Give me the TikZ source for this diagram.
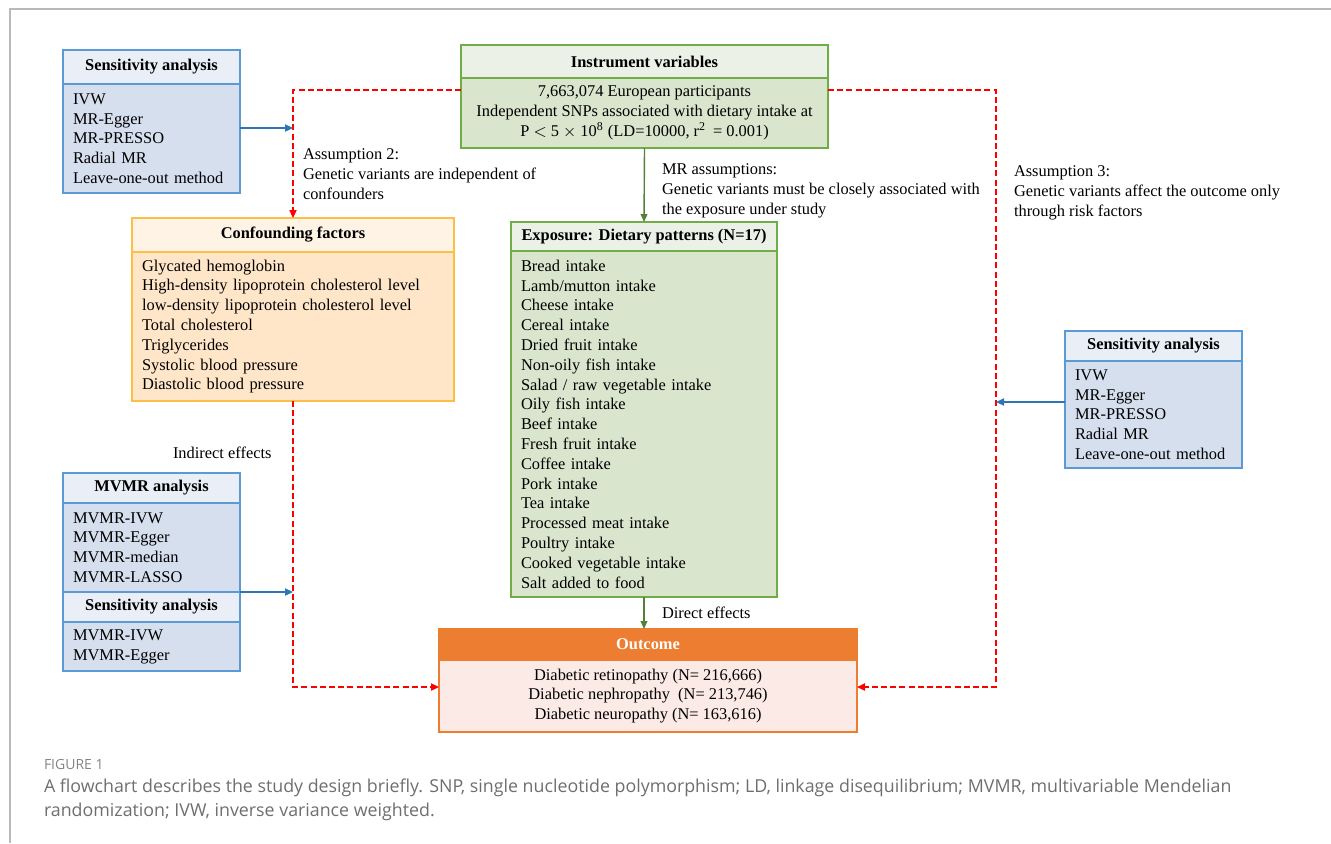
\documentclass[tikz,border=0pt]{standalone}
\usepackage{fontspec}
\setmainfont{Liberation Serif}
\newfontfamily\capfont{Open Sans}
\usetikzlibrary{positioning,arrows.meta}
\definecolor{blueline}{HTML}{5B9BD5}
\definecolor{bluehead}{HTML}{E9EEF7}
\definecolor{bluebody}{HTML}{D5DFEE}
\definecolor{greenline}{HTML}{70AD47}
\definecolor{greenhead}{HTML}{EBF1E6}
\definecolor{greenbody}{HTML}{D9E5CD}
\definecolor{goldline}{HTML}{FBBF45}
\definecolor{goldhead}{HTML}{FFF3E6}
\definecolor{goldbody}{HTML}{FFE6C9}
\definecolor{orangeline}{HTML}{ED7D31}
\definecolor{orangebody}{HTML}{FBEAE5}
\definecolor{arrowblue}{HTML}{2E75B6}
\definecolor{arrowgreen}{HTML}{538135}
\definecolor{capgray}{HTML}{6E6E6E}
\begin{document}
\begin{tikzpicture}[
  x=0.5pt, y=-0.5pt,
  every node/.style={font=\fontsize{8.2}{9.9}\selectfont, inner sep=0pt, outer sep=0pt},
  hdr/.style={draw, line width=0.7pt, anchor=north west, align=center,
    font=\fontsize{8.2}{9.9}\selectfont\bfseries},
  lst/.style={draw, line width=0.7pt, align=left, inner xsep=5pt},
  ctr/.style={draw, line width=0.7pt, align=center},
  note/.style={anchor=north west, align=left},
  reddash/.style={draw=red, line width=0.75pt, dashed, dash pattern=on 3pt off 1.6pt,
    -{Triangle[length=4pt,width=3.6pt]}},
  bluearrow/.style={draw=arrowblue, line width=0.75pt, -{Triangle[length=4pt,width=3.6pt]}},
  greenarrow/.style={draw=arrowgreen, line width=0.7pt, -{Triangle[length=4pt,width=3.4pt]}}
]
\useasboundingbox (0,0) rectangle (1331,843);
\draw[gray!55, line width=0.8pt] (10,843) -- (10,9) -- (1331,9);

% instrument variables
\node[hdr, draw=greenline, fill=greenhead, minimum width=183.5pt, minimum height=16.5pt] (iv) at (461,45) {Instrument variables};
\node[ctr, draw=greenline, fill=greenbody, minimum width=183.5pt, minimum height=35pt, below=0pt of iv] (ivtext)
  {7,663,074 European participants\\ Independent SNPs associated with dietary intake at\\ P $<$ 5 $\times$ 10\textsuperscript{\fontsize{6}{6}\selectfont 8} (LD=10000, r\textsuperscript{\fontsize{6}{6}\selectfont 2} \,= 0.001)};

% sensitivity analysis (left)
\node[hdr, draw=blueline, fill=bluehead, minimum width=88.5pt, minimum height=17pt] (sensl) at (63,50) {Sensitivity analysis};
\node[lst, draw=blueline, fill=bluebody, text width=78.5pt, minimum height=54.5pt, below=0pt of sensl] (senslist)
  {IVW\\ MR-Egger\\ MR-PRESSO\\ Radial MR\\ Leave-one-out method};

% confounding factors
\node[hdr, draw=goldline, fill=goldhead, minimum width=161pt, minimum height=17pt] (conf) at (132,218) {Confounding factors};
\node[lst, draw=goldline, fill=goldbody, text width=151pt, minimum height=74.5pt, below=0pt of conf] (conflist)
  {Glycated hemoglobin\\ High-density lipoprotein cholesterol level\\ low-density lipoprotein cholesterol level\\
   Total cholesterol\\ Triglycerides\\ Systolic blood pressure\\ Diastolic blood pressure};

% exposure
\node[hdr, draw=greenline, fill=greenhead, minimum width=133pt, minimum height=14.5pt] (expo) at (511,222) {Exposure: Dietary patterns (N=17)};
\node[lst, draw=greenline, fill=greenbody, text width=123pt, minimum height=173pt, below=0pt of expo] (expolist)
  {Bread intake\\ Lamb/mutton intake\\ Cheese intake\\ Cereal intake\\ Dried fruit intake\\ Non-oily fish intake\\
   Salad / raw vegetable intake\\ Oily fish intake\\ Beef intake\\ Fresh fruit intake\\ Coffee intake\\ Pork intake\\
   Tea intake\\ Processed meat intake\\ Poultry intake\\ Cooked vegetable intake\\ Salt added to food};

% outcome
\node[hdr, draw=orangeline, fill=orangeline, text=white, minimum width=209pt, minimum height=15.5pt] (outc) at (439,629) {Outcome};
\node[ctr, draw=orangeline, fill=orangebody, minimum width=209pt, minimum height=36pt, below=0pt of outc] (outclist)
  {Diabetic retinopathy (N= 216,666)\\ Diabetic nephropathy \ (N= 213,746)\\ Diabetic neuropathy (N= 163,616)};

% sensitivity analysis (right)
\node[hdr, draw=blueline, fill=bluehead, minimum width=88.5pt, minimum height=15pt] (sensr) at (1065,331) {Sensitivity analysis};
\node[lst, draw=blueline, fill=bluebody, text width=78.5pt, minimum height=53.5pt, below=0pt of sensr] (sensrlist)
  {IVW\\ MR-Egger\\ MR-PRESSO\\ Radial MR\\ Leave-one-out method};

% mvmr analysis
\node[hdr, draw=blueline, fill=bluehead, minimum width=88.5pt, minimum height=15pt] (mvmr) at (63,473) {MVMR analysis};
\node[lst, draw=blueline, fill=bluebody, text width=78.5pt, minimum height=44.5pt, below=0pt of mvmr] (mvmrlist)
  {MVMR-IVW\\ MVMR-Egger\\ MVMR-median\\ MVMR-LASSO};
\node[hdr, draw=blueline, fill=bluehead, minimum width=88.5pt, minimum height=15pt, anchor=north] (mvsens) at (mvmrlist.south) {Sensitivity analysis};
\node[lst, draw=blueline, fill=bluebody, text width=78.5pt, minimum height=24.5pt, below=0pt of mvsens] (mvsenslist)
  {MVMR-IVW\\ MVMR-Egger};

% labels
\node[note] (asm2) at (303,149) {Assumption 2:\\ Genetic variants are independent of\\ confounders};
\node[note] (mrasm) at (662,164) {MR assumptions:\\ Genetic variants must be closely associated with\\ the exposure under study};
\node[note] (asm3) at (1014,166) {Assumption 3:\\ Genetic variants affect the outcome only\\ through risk factors};
\node[anchor=west] (indir) at (173,453) {Indirect effects};
\node[anchor=west] (direct) at (662,613) {Direct effects};

% connectors
\coordinate (lcorner) at (293,90);
\coordinate (rcorner) at (996,90);
\coordinate (lowrow) at (293,687);
\coordinate (sjoin) at (293,128);
\coordinate (rjoin) at (996,402);
\draw[reddash] (ivtext.west |- lcorner) -| (conf.north);
\draw[reddash] (conflist.south) |- (outclist.west |- lowrow);
\draw[reddash] (ivtext.east |- rcorner) -- (rcorner) |- (outclist.east |- lowrow);
\draw[bluearrow] (senslist.east |- sjoin) -- (sjoin);
\draw[bluearrow] (mvmrlist.south east) -- (mvmrlist.south east -| lowrow);
\draw[bluearrow] (sensrlist.west |- rjoin) -- (rjoin);
\draw[greenarrow] (ivtext.south) -- (expo.north);
\draw[greenarrow] (expolist.south) -- (outc.north -| expolist.south);

% caption
\node[anchor=west, font=\capfont\fontsize{7}{8}\selectfont, text=capgray!85] (fig) at (44,764) {FIGURE 1};
\node[note, font=\capfont\fontsize{8.9}{12}\selectfont, text=capgray] (cap) at (44,779)
  {A flowchart describes the study design briefly. SNP, single nucleotide polymorphism; LD, linkage disequilibrium; MVMR, multivariable Mendelian\\
   randomization; IVW, inverse variance weighted.};
\end{tikzpicture}
\end{document}
